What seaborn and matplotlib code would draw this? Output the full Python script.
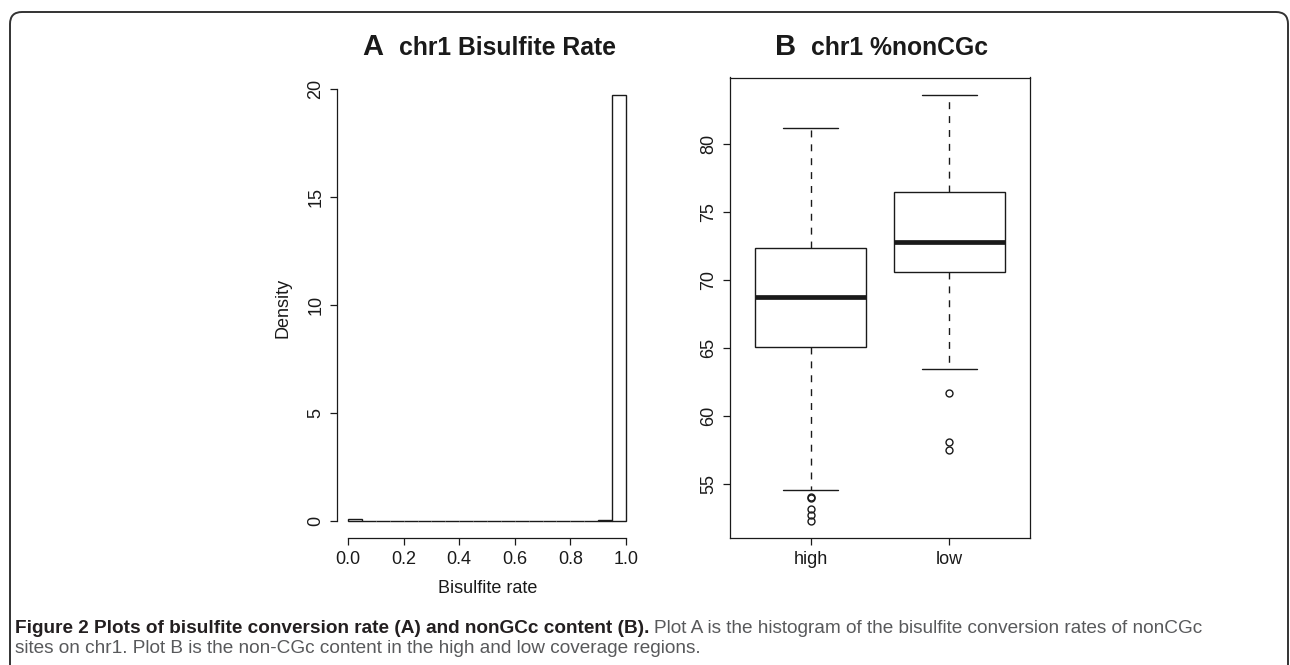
import numpy as np
import pandas as pd
import matplotlib
matplotlib.use("Agg")
import matplotlib.pyplot as plt
import seaborn as sns
from matplotlib.patches import FancyBboxPatch
from matplotlib.transforms import IdentityTransform

# ---------------- data ----------------
# Panel A: histogram of bisulfite conversion rate (density per 0.05 bin)
bin_edges = [0.00, 0.05, 0.10, 0.15, 0.20, 0.25, 0.30, 0.35, 0.40, 0.45, 0.50,
             0.55, 0.60, 0.65, 0.70, 0.75, 0.80, 0.85, 0.90, 0.95, 1.00]
bin_density = [0.09, 0.004, 0.003, 0.003, 0.003, 0.003, 0.003, 0.003, 0.003, 0.003,
               0.003, 0.003, 0.004, 0.004, 0.004, 0.005, 0.005, 0.006, 0.06, 19.75]
hist_xticks = [0.0, 0.2, 0.4, 0.6, 0.8, 1.0]
hist_yticks = [0, 5, 10, 15, 20]

# Panel B: %nonCGc box plot summaries
groups = ["high", "low"]
whisker_low = [54.56, 63.46]
quart1 = [65.10, 70.61]
medians = [68.73, 72.82]
quart3 = [72.35, 76.47]
whisker_high = [81.15, 83.63]
outliers_high = [52.30, 52.72, 53.16, 53.95, 54.07]
outliers_low = [57.48, 58.07, 61.72]
box_yticks = [55, 60, 65, 70, 75, 80]

title_a = ("A", "chr1 Bisulfite Rate")
title_b = ("B", "chr1 %nonCGc")
caption_bold = "Figure 2 Plots of bisulfite conversion rate (A) and nonGCc content (B)."
caption_rest1 = "Plot A is the histogram of the bisulfite conversion rates of nonCGc"
caption_rest2 = "sites on chr1. Plot B is the non-CGc content in the high and low coverage regions."

# rebuild a sample whose box-plot statistics equal the read summaries
def sample_from_summary(wl, q1, med, q3, wh, outl, n=10):
    return list(outl) + [wl] + [q1] * n + [med] * n + [q3] * n + [wh] * (len(outl) + 1)

outl_lists = [outliers_high, outliers_low]
rows = []
for i, g in enumerate(groups):
    vals = sample_from_summary(whisker_low[i], quart1[i], medians[i], quart3[i],
                               whisker_high[i], outl_lists[i])
    rows += [(g, v) for v in vals]
box_df = pd.DataFrame(rows, columns=["coverage", "nonCGc"])

# ---------------- style ----------------
sns.set_style("ticks")
plt.rcParams["font.family"] = ["Liberation Sans", "DejaVu Sans"]

W, H = 1290, 665
fig = plt.figure(figsize=(W / 100, H / 100), dpi=100)
fig.patch.set_facecolor("white")

ink = "#1a1a1a"
tick_kw = dict(direction="out", length=5, width=0.9, colors=ink, labelsize=13,
               labelcolor=ink, pad=4)

# ---------------- panel A ----------------
axA = fig.add_axes([337 / W, 1 - 538 / H, 300 / W, 460.5 / H])
centers = [(bin_edges[i] + bin_edges[i + 1]) / 2 for i in range(len(bin_density))]
sns.histplot(x=centers, weights=bin_density, bins=bin_edges, stat="count",
             color="white", edgecolor=ink, linewidth=1.0, alpha=1, ax=axA)
axA.set_xlim(-0.04, 1.04)
axA.set_ylim(-0.79, 20.54)
axA.set_xticks(hist_xticks)
axA.set_xticklabels([f"{t:.1f}" for t in hist_xticks])
axA.set_yticks(hist_yticks)
axA.set_yticklabels([str(t) for t in hist_yticks])
for s in ["top", "right"]:
    axA.spines[s].set_visible(False)
axA.spines["left"].set_bounds(0, 20)
axA.spines["bottom"].set_bounds(0, 1)
for s in ["left", "bottom"]:
    axA.spines[s].set_color(ink)
    axA.spines[s].set_linewidth(0.9)
axA.tick_params(axis="both", bottom=True, left=True, **tick_kw)
axA.tick_params(axis="y", labelrotation=90)
for lab in axA.get_yticklabels():
    lab.set_va("center")
axA.set_xlabel("Bisulfite rate", fontsize=13, color=ink)
axA.set_ylabel("Density", fontsize=13, color=ink)
axA.xaxis.set_label_coords(0.5017, -0.091)
axA.yaxis.set_label_coords(-0.15, 0.5)

# ---------------- panel B ----------------
axB = fig.add_axes([730 / W, 1 - 538 / H, 300 / W, 460.5 / H])
sns.boxplot(data=box_df, x="coverage", y="nonCGc", order=groups, width=0.8,
            color="white", linecolor=ink, linewidth=1.0, whis=1.5, fliersize=5,
            boxprops=dict(edgecolor=ink, linewidth=1.0, facecolor="white"),
            medianprops=dict(color=ink, linewidth=3.4, solid_capstyle="butt"),
            whiskerprops=dict(color=ink, linewidth=1.0, linestyle=(0, (5, 5))),
            capprops=dict(color=ink, linewidth=1.0),
            flierprops=dict(marker="o", markerfacecolor="none", markeredgecolor=ink,
                            markeredgewidth=1.0, markersize=5),
            ax=axB)
axB.set_xlim(-0.58, 1.58)
axB.set_ylim(51.03, 84.9)
axB.set_yticks(box_yticks)
axB.set_yticklabels([str(t) for t in box_yticks])
axB.set_xlabel("")
axB.set_ylabel("")
for s in axB.spines.values():
    s.set_visible(True)
    s.set_color(ink)
    s.set_linewidth(0.9)
axB.tick_params(axis="both", bottom=True, left=True, **tick_kw)
axB.tick_params(axis="y", labelrotation=90)
for lab in axB.get_yticklabels():
    lab.set_va("center")

# ---------------- titles ----------------
base_y = 1 - 55 / H
fig.text(362 / W, base_y, title_a[0], fontsize=21, fontweight="bold", va="baseline", color=ink)
fig.text(399 / W, base_y, title_a[1], fontsize=17.8, fontweight="bold", va="baseline", color=ink)
fig.text(775 / W, base_y, title_b[0], fontsize=21, fontweight="bold", va="baseline", color=ink)
fig.text(811 / W, base_y, title_b[1], fontsize=17.8, fontweight="bold", va="baseline", color=ink)

# ---------------- caption ----------------
renderer = fig.canvas.get_renderer()
x0 = 15
tb = fig.text(x0 / W, 1 - 633 / H, caption_bold, fontsize=12, fontweight="bold",
              color="#231f20", va="baseline")
tr = fig.text(0, 1 - 633 / H, caption_rest1, fontsize=12, color="#58595b", va="baseline")
t2 = fig.text(x0 / W, 1 - 653 / H, caption_rest2, fontsize=12, color="#58595b", va="baseline")
wb = tb.get_window_extent(renderer).width
wr = tr.get_window_extent(renderer).width
w2 = t2.get_window_extent(renderer).width
gap = 5
s1 = 12 * (1240 - x0 - gap) / (wb + wr)
s2 = 12 * (688 - x0) / w2
size = 0.5 * (s1 + s2)
for t in (tb, tr, t2):
    t.set_fontsize(size)
wb = tb.get_window_extent(renderer).width
tr.set_x((x0 + wb + gap) / W)

# ---------------- frame ----------------
frame = FancyBboxPatch((10, -40), 1278, 653 + 40,
                       boxstyle="round,pad=0,rounding_size=12",
                       transform=IdentityTransform(), fill=False,
                       edgecolor="#333333", linewidth=1.4)
fig.add_artist(frame)

fig.savefig("out.png", dpi=100, facecolor="white")
